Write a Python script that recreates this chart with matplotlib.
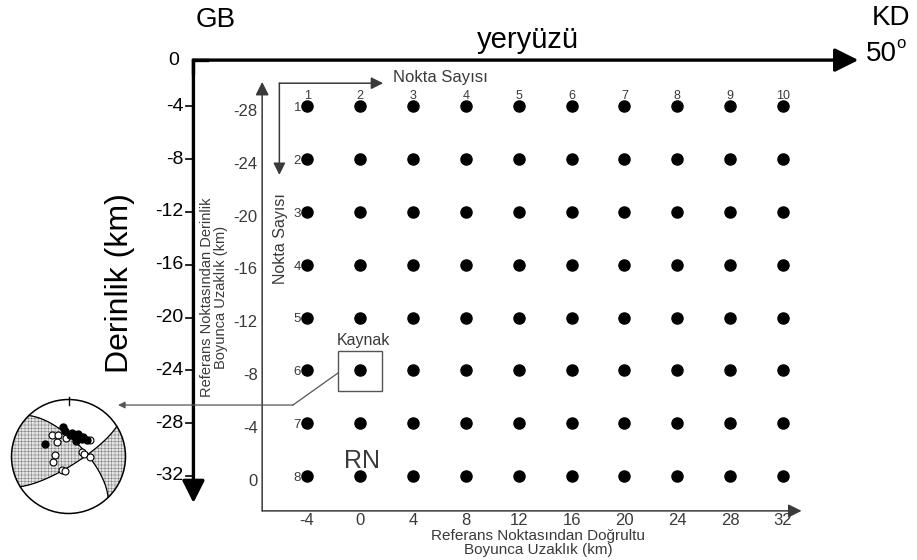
import numpy as np
import matplotlib
matplotlib.use("Agg")
import matplotlib.pyplot as plt
from matplotlib.patches import Rectangle, Circle

plt.rcParams["font.family"] = ["Liberation Sans", "DejaVu Sans"]
plt.rcParams["hatch.linewidth"] = 0.35
plt.rcParams["hatch.color"] = "#7a7a7a"

# calculation grid (km)
strike_km = [-4, 0, 4, 8, 12, 16, 20, 24, 28, 32]
depth_km = [-4, -8, -12, -16, -20, -24, -28, -32]
dip_km = [-28, -24, -20, -16, -12, -8, -4, 0]
col_no = [1, 2, 3, 4, 5, 6, 7, 8, 9, 10]
row_no = [1, 2, 3, 4, 5, 6, 7, 8]
depth_ticks = [0, -4, -8, -12, -16, -20, -24, -28, -32]

source_x, source_depth = 0, -24
rn_x, rn_depth = 0, -32

# focal mechanism (lower hemisphere)
plane_strike = [316, 58]
plane_dip = [68, 77]
up_x = [-0.09, -0.06, 0.03, 0.11, 0.20, 0.26, 0.32, 0.14, -0.41, 0.07, 0.17, 0.23]
up_y = [0.51, 0.44, 0.38, 0.35, 0.32, 0.35, 0.29, 0.28, 0.22, 0.41, 0.40, 0.30]
down_x = [-0.29, -0.18, -0.21, -0.24, -0.28, -0.12, -0.06, 0.23, 0.27, 0.37, 0.38, -0.04]
down_y = [0.38, 0.38, 0.26, 0.03, -0.09, -0.24, -0.25, 0.08, 0.04, -0.01, 0.29, 0.32]

GRAY = "#3a3a3a"

fig = plt.figure(figsize=(9.17, 5.6), dpi=100)
ax = fig.add_axes([0, 0, 1, 1])
ax.set_xlim(-360 / 13.22, 557 / 13.22)
ax.set_ylim((53.5 - 560) / 13.2, 53.5 / 13.2)
ax.axis("off")


def arrow(x0, y0, x1, y1, lw, ms, color):
    ax.annotate("", xy=(x1, y1), xytext=(x0, y0),
                arrowprops=dict(arrowstyle="-|>,head_length=0.4,head_width=0.2",
                                lw=lw, color=color, mutation_scale=ms,
                                shrinkA=0, shrinkB=0))


# outer frame: surface and depth axis
surf = -0.5
ox = -12.6
arrow(ox, surf, 37.7, surf, 2.4, 36, "black")
arrow(ox, surf, ox, -34.05, 2.4, 34, "black")
ax.plot([ox + 1, ox, ox], [surf, surf, surf - 1], lw=2.4, color="black",
        solid_joinstyle="miter")

for d in depth_ticks[1:]:
    ax.plot([ox - 0.55, ox], [d, d], lw=1.2, color="black")
    ax.text(ox - 0.75, d, str(d), ha="right", va="center", fontsize=14)
ax.text(ox - 1.1, surf, "0", ha="right", va="center", fontsize=14)

ax.text(-18.15, -17.4, "Derinlik (km)", rotation=90, ha="center", va="center",
        fontsize=23)
ax.text(-10.9, 2.55, "GB", ha="center", va="center", fontsize=20)
ax.text(40.2, 2.7, "KD", ha="center", va="center", fontsize=20)
ax.text(38.3, -0.05, "50", ha="left", va="center", fontsize=20)
ax.text(40.6, 0.75, "o", ha="left", va="center", fontsize=12)
ax.text(12.7, 1.0, "yeryüzü", ha="center", va="center", fontsize=21)

# inner axes
ix = -7.4
ibot = -34.65
arrow(ix, ibot, ix, -2.15, 1.1, 20, GRAY)
arrow(ix, ibot, 33.4, ibot, 1.1, 20, GRAY)

for d, lab in zip(depth_km, dip_km):
    ax.text(ix - 0.35, d - 0.4, str(lab), ha="right", va="center", fontsize=12,
            color=GRAY)
for x in strike_km:
    ax.text(x, -35.35, str(x), ha="center", va="center", fontsize=12, color=GRAY)

ax.text(-11.05, -18.45, "Referans Noktasından Derinlik\nBoyunca Uzaklık (km)",
        rotation=90, ha="center", va="center", fontsize=10.5, color=GRAY,
        linespacing=1.05)
ax.text(13.5, -37.1, "Referans Noktasından Doğrultu\nBoyunca Uzaklık (km)",
        ha="center", va="center", fontsize=11, color=GRAY, linespacing=1.0)

# point numbering
cx, cy = -6.1, -2.25
arrow(cx, cy, 1.75, cy, 1.1, 18, GRAY)
arrow(cx, cy, cx, -9.2, 1.1, 18, GRAY)
ax.text(2.5, -1.8, "Nokta Sayısı", ha="left", va="center", fontsize=12, color=GRAY)
ax.text(-6.05, -14.0, "Nokta Sayısı", rotation=90, ha="center", va="center",
        fontsize=11.5, color=GRAY)

for x, n in zip(strike_km, col_no):
    ax.text(x, depth_km[0] + 0.8, str(n), ha="center", va="center", fontsize=9,
            color=GRAY)
for d, n in zip(depth_km, row_no):
    ax.text(strike_km[0] - 0.45, d - 0.15, str(n), ha="right", va="center",
            fontsize=9.5, color=GRAY)

gx, gy = np.meshgrid(strike_km, depth_km)
ax.plot(gx.ravel(), gy.ravel(), "o", ms=8, color="black", zorder=3)

# source box and leader
ax.add_patch(Rectangle((source_x - 1.66, source_depth - 1.55), 3.32, 3.05,
                       fill=False, lw=1.0, edgecolor="#555555"))
ax.text(source_x + 0.25, source_depth + 2.25, "Kaynak", ha="center", va="center",
        fontsize=11.5, color=GRAY)
ax.plot([source_x - 1.66, -5.07], [source_depth - 0.2, -26.63], lw=0.9,
        color="#555555")
arrow(-5.07, -26.63, -18.3, -26.63, 0.9, 10, "#555555")
ax.text(rn_x + 0.15, rn_depth + 1.1, "RN", ha="center", va="center", fontsize=18,
        color=GRAY)

# focal mechanism inset
bax = fig.add_axes([6.5 / 917, (560 - 456.5 - 62) / 560, 124 / 917, 124 / 560])
bax.set_xlim(-1.088, 1.088)
bax.set_ylim(-1.088, 1.088)
bax.axis("off")
bax.patch.set_alpha(0)


def plane_vectors(s, dip):
    s, dip = np.radians(s), np.radians(dip)
    sv = np.array([np.sin(s), np.cos(s), 0.0])
    dv = np.array([np.cos(dip) * np.sin(s + np.pi / 2),
                   np.cos(dip) * np.cos(s + np.pi / 2), np.sin(dip)])
    return sv, dv


n = 400
xs = np.linspace(-1, 1, n)
X, Y = np.meshgrid(xs, xs)
R = np.hypot(X, Y)
tr = np.arctan2(X, Y)
pl = np.pi / 2 - 2 * np.arcsin(np.clip(R, 0, 1) / np.sqrt(2))
V = np.stack([np.cos(pl) * np.sin(tr), np.cos(pl) * np.cos(tr), np.sin(pl)])
west = np.array([-1.0, 0.0, 0.0])
Z = np.ones_like(X)
zw = 1.0
for s, dp in zip(plane_strike, plane_dip):
    sv, dv = plane_vectors(s, dp)
    nrm = np.cross(sv, dv)
    Z = Z * np.sign(np.tensordot(nrm, V, axes=1))
    zw = zw * np.sign(nrm @ west)
shade = (Z == zw).astype(float)
shade[R > 1] = np.nan
bax.contourf(X, Y, shade, levels=[0.5, 1.5], colors=["#e4e4e4"],
             hatches=["+++++"])

for s, dp in zip(plane_strike, plane_dip):
    sv, dv = plane_vectors(s, dp)
    t = np.linspace(0, np.pi, 300)
    v = np.outer(np.cos(t), sv) + np.outer(np.sin(t), dv)
    p = np.arcsin(np.clip(v[:, 2], -1, 1))
    tt = np.arctan2(v[:, 0], v[:, 1])
    r = np.sqrt(2) * np.sin((np.pi / 2 - p) / 2)
    bax.plot(r * np.sin(tt), r * np.cos(tt), color="black", lw=0.9)

bax.add_patch(Circle((0, 0), 1, fill=False, lw=1.1, edgecolor="black"))
bax.plot([0, 0], [0.9, 1.04], color="black", lw=1.0)
bax.plot(down_x, down_y, "o", ms=5, mfc="white", mec="black", mew=0.8)
bax.plot(up_x, up_y, "o", ms=5, color="black")

fig.savefig("out.png", dpi=100)
